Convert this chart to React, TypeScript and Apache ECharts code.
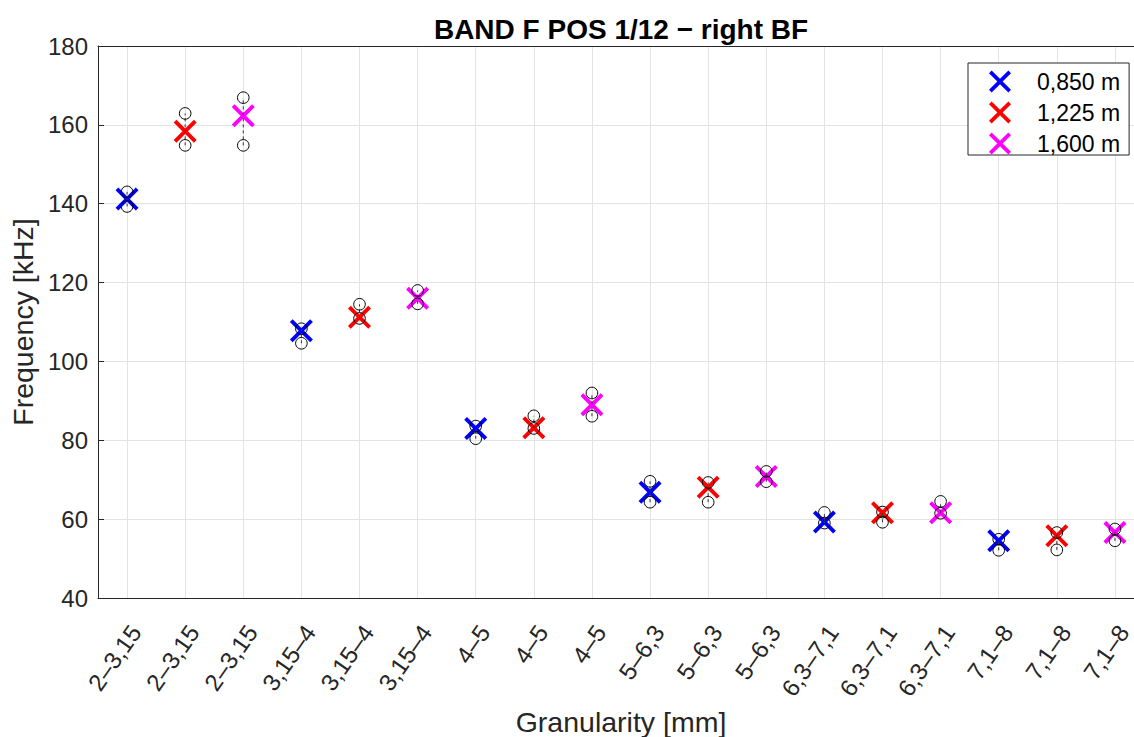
import React, { useEffect, useRef } from 'react';
import * as echarts from 'echarts';

// ---- data ----
const categories = [
  '2–3,15', '2–3,15', '2–3,15',
  '3,15–4', '3,15–4', '3,15–4',
  '4–5', '4–5', '4–5',
  '5–6,3', '5–6,3', '5–6,3',
  '6,3–7,1', '6,3–7,1', '6,3–7,1',
  '7,1–8', '7,1–8', '7,1–8',
];
const seriesNames = ['0,850 m', '1,225 m', '1,600 m'];
const seriesColors = ['#0000ff', '#ff0000', '#ff00ff'];

// mean values (X markers), one per granularity group
const mean0850 = [141.2, 107.8, 83.0, 66.8, 59.3, 54.5];
const mean1225 = [158.4, 111.2, 83.2, 68.1, 61.6, 55.8];
const mean1600 = [162.3, 116.0, 89.0, 70.8, 61.6, 56.6];
// min values (lower circles)
const min0850 = [139.3, 104.6, 80.4, 64.3, 59.0, 52.1];
const min1225 = [154.8, 110.9, 83.0, 64.3, 59.2, 52.2];
const min1600 = [154.8, 114.6, 86.1, 69.5, 61.5, 54.5];
// max values (upper circles)
const max0850 = [143.0, 108.3, 83.6, 69.6, 61.7, 54.9];
const max1225 = [162.9, 114.5, 86.2, 69.3, 61.8, 56.6];
const max1600 = [166.9, 118.0, 92.0, 72.1, 64.5, 57.5];

const yTicks = { min: 40, max: 180, interval: 20 };

const meanSets = [mean0850, mean1225, mean1600];
const minSets = [min0850, min1225, min1600];
const maxSets = [max0850, max1225, max1600];

const FONT = '"Liberation Sans", Arial, Helvetica, sans-serif';
const AXIS_COLOR = '#262626';
const GRID_COLOR = '#e3e3e3';
const X_PATH =
  'path://M0,12L12,0L50,38L88,0L100,12L62,50L100,88L88,100L50,62L12,100L0,88L38,50Z';

export default function App() {
  const ref = useRef<HTMLDivElement>(null);

  useEffect(() => {
    if (!ref.current) return;
    const chart = echarts.init(ref.current, null, { renderer: 'svg' });

    const scatterSeries = seriesNames.map((name, s) => ({
      name,
      type: 'scatter',
      symbol: X_PATH,
      symbolSize: 23,
      itemStyle: { color: seriesColors[s], opacity: 1 },
      z: 2,
      data: meanSets[s].map((v, g) => [g * 3 + s, v]),
    }));

    const errData: number[][] = [];
    for (let s = 0; s < 3; s++) {
      for (let g = 0; g < 6; g++) {
        errData.push([g * 3 + s, minSets[s][g], maxSets[s][g]]);
      }
    }

    const option: any = {
      animation: false,
      backgroundColor: '#ffffff',
      textStyle: { fontFamily: FONT },
      graphic: [
        {
          type: 'text',
          x: 621,
          y: 29,
          style: {
            text: 'BAND F POS 1/12 − right BF',
            font: `bold 28px ${FONT}`,
            fill: '#000000',
            textAlign: 'center',
            textVerticalAlign: 'middle',
          },
        },
      ],
      grid: {
        left: 98,
        top: 46,
        right: 2,
        bottom: 139,
        containLabel: false,
        outerBoundsMode: 'none',
      },
      legend: {
        left: 968,
        top: 63,
        orient: 'vertical',
        data: seriesNames,
        icon: X_PATH,
        itemWidth: 22,
        itemHeight: 22,
        itemGap: 8,
        padding: [7, 9, 0, 21],
        borderColor: AXIS_COLOR,
        borderWidth: 1,
        backgroundColor: '#ffffff',
        textStyle: { fontSize: 23, color: '#000000', fontFamily: FONT, padding: [0, 0, 0, 21] },
      },
      xAxis: [
        {
          type: 'category',
          data: categories,
          boundaryGap: true,
          position: 'bottom',
          name: 'Granularity [mm]',
          nameLocation: 'middle',
          nameGap: 108,
          nameTextStyle: { fontSize: 28.5, color: AXIS_COLOR, fontFamily: FONT },
          axisLine: { lineStyle: { color: AXIS_COLOR, width: 1 } },
          axisTick: { inside: true, length: 6, alignWithLabel: true, lineStyle: { color: AXIS_COLOR } },
          axisLabel: {
            rotate: 55,
            fontSize: 24,
            color: AXIS_COLOR,
            margin: 42,
            padding: [0, -15, 0, 0],
            interval: 0,
            fontFamily: FONT,
          },
          splitLine: { show: true, alignWithLabel: true, lineStyle: { color: GRID_COLOR, width: 1 } },
        },
        {
          type: 'category',
          data: categories,
          boundaryGap: true,
          position: 'top',
          axisLine: { lineStyle: { color: AXIS_COLOR, width: 1 } },
          axisTick: { inside: true, length: 6, alignWithLabel: true, lineStyle: { color: AXIS_COLOR } },
          axisLabel: { show: false },
          splitLine: { show: false },
        },
      ],
      yAxis: {
        type: 'value',
        min: yTicks.min,
        max: yTicks.max,
        interval: yTicks.interval,
        name: 'Frequency [kHz]',
        nameLocation: 'middle',
        nameGap: 58,
        nameTextStyle: { fontSize: 28.5, color: AXIS_COLOR, fontFamily: FONT },
        axisLine: { show: true, lineStyle: { color: AXIS_COLOR, width: 1 } },
        axisTick: { show: true, inside: true, length: 6, lineStyle: { color: AXIS_COLOR } },
        axisLabel: { fontSize: 24, color: AXIS_COLOR, margin: 10, fontFamily: FONT },
        splitLine: { show: true, lineStyle: { color: GRID_COLOR, width: 1 } },
      },
      series: [
        ...scatterSeries,
        {
          type: 'custom',
          name: 'range',
          z: 5,
          silent: true,
          data: errData,
          encode: { x: 0, y: [1, 2] },
          renderItem: (params: any, api: any) => {
            const x = api.value(0);
            const lo = api.coord([x, api.value(1)]);
            const hi = api.coord([x, api.value(2)]);
            const r = 5.8;
            return {
              type: 'group',
              children: [
                {
                  type: 'line',
                  shape: { x1: lo[0], y1: lo[1], x2: hi[0], y2: hi[1] },
                  style: { stroke: '#333333', lineWidth: 1, lineDash: [3, 3] },
                },
                {
                  type: 'circle',
                  shape: { cx: lo[0], cy: lo[1], r },
                  style: { fill: 'none', stroke: '#000000', lineWidth: 1 },
                },
                {
                  type: 'circle',
                  shape: { cx: hi[0], cy: hi[1], r },
                  style: { fill: 'none', stroke: '#000000', lineWidth: 1 },
                },
              ],
            };
          },
        },
      ],
    };

    chart.setOption(option);
    return () => chart.dispose();
  }, []);

  return (
    <div
      ref={ref}
      style={{ position: 'fixed', left: 0, top: 0, width: 1146, height: 737, background: '#fff' }}
    />
  );
}
